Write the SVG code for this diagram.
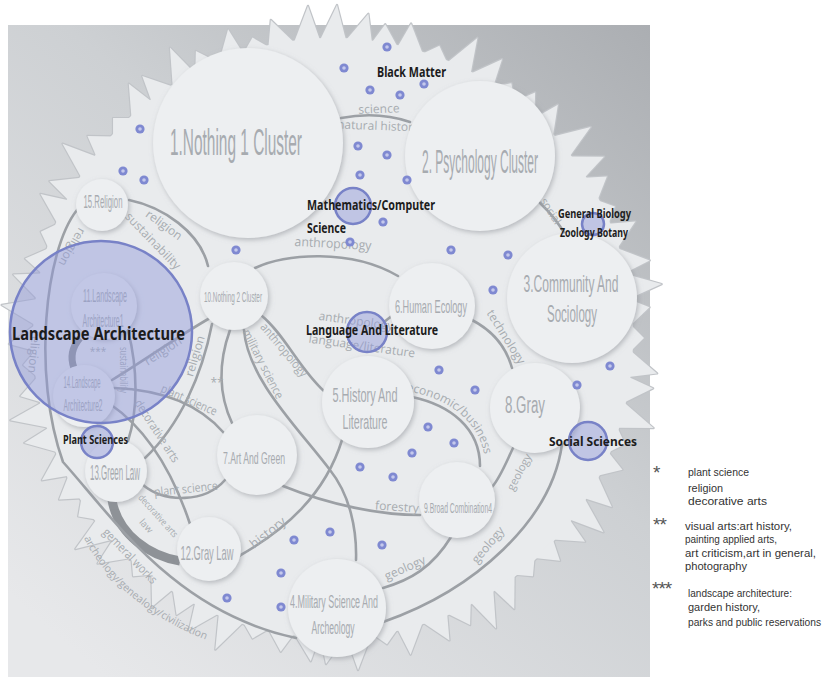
<svg xmlns="http://www.w3.org/2000/svg" width="829" height="681" viewBox="0 0 829 681">
<defs>
<style>
.node circle{fill:#edeff1;filter:url(#shadow)}
.nl{font-family:"Liberation Sans",Arial,sans-serif;fill:#a7abb0;text-anchor:middle}
.cx path{fill:none;stroke:#9ca0a5;stroke-width:2.6;stroke-linecap:round}
.cx path.band{stroke:#8e9297;stroke-width:9;stroke-linecap:butt}
.cl{font-family:"Open Sans","Liberation Sans",sans-serif;font-size:12px;fill:#a7abb0;text-anchor:middle}
.hub{fill:#8f99da;fill-opacity:.46;stroke:#7882c7;stroke-width:2.5}
.bl{font-family:"Noto Sans","Liberation Sans",sans-serif;font-weight:700;fill:#1c1c1c}
.lg{font-family:"Liberation Sans",Arial,sans-serif;font-size:10.5px;fill:#333}
.star{font-family:"Liberation Sans",Arial,sans-serif;font-size:19px;fill:#555;letter-spacing:-1px}
</style>
<linearGradient id="bgGrad" x1="1" y1="0" x2="0.15" y2="1">
<stop offset="0" stop-color="#abaeb2"/>
<stop offset="0.45" stop-color="#cdd0d3"/>
<stop offset="1" stop-color="#e7e8ea"/>
</linearGradient>
<filter id="shadow" x="-20%" y="-20%" width="140%" height="140%">
<feDropShadow dx="1.5" dy="2" stdDeviation="2.5" flood-color="#8c9096" flood-opacity="0.55"/>
</filter>
<!-- saw teeth of the outer rim -->
<polygon id="tA" points="-13,-298 4,-333 13,-298"/>
<polygon id="tB" points="-13,-298 -3,-318 13,-298"/>
<polygon id="tC" points="-13,-298 7,-326 13,-298"/>
<polygon id="tD" points="-13,-298 0,-311 13,-298"/>
<polygon id="tE" points="-13,-298 -6,-324 13,-298"/>
<g id="sunShape" transform="translate(333,338)">
<circle r="300"/>
<use href="#tA"/><use href="#tC" transform="rotate(5)"/><use href="#tB" transform="rotate(10)"/><use href="#tE" transform="rotate(15)"/>
<use href="#tD" transform="rotate(20)"/><use href="#tA" transform="rotate(25)"/><use href="#tC" transform="rotate(30)"/><use href="#tD" transform="rotate(35)"/>
<use href="#tB" transform="rotate(40)"/><use href="#tE" transform="rotate(45)"/><use href="#tA" transform="rotate(50)"/><use href="#tC" transform="rotate(55)"/>
<use href="#tB" transform="rotate(60)"/><use href="#tD" transform="rotate(65)"/><use href="#tE" transform="rotate(70)"/><use href="#tC" transform="rotate(75)"/>
<use href="#tA" transform="rotate(80)"/><use href="#tB" transform="rotate(85)"/><use href="#tD" transform="rotate(90)"/><use href="#tC" transform="rotate(95)"/>
<use href="#tE" transform="rotate(100)"/><use href="#tA" transform="rotate(105)"/><use href="#tD" transform="rotate(110)"/><use href="#tB" transform="rotate(115)"/>
<use href="#tC" transform="rotate(120)"/><use href="#tA" transform="rotate(125)"/><use href="#tE" transform="rotate(130)"/><use href="#tB" transform="rotate(135)"/>
<use href="#tD" transform="rotate(140)"/><use href="#tC" transform="rotate(145)"/><use href="#tA" transform="rotate(150)"/><use href="#tB" transform="rotate(155)"/>
<use href="#tE" transform="rotate(160)"/><use href="#tC" transform="rotate(165)"/><use href="#tD" transform="rotate(170)"/><use href="#tA" transform="rotate(175)"/>
<use href="#tC" transform="rotate(180)"/><use href="#tE" transform="rotate(185)"/><use href="#tB" transform="rotate(190)"/><use href="#tD" transform="rotate(195)"/>
<use href="#tA" transform="rotate(200)"/><use href="#tC" transform="rotate(205)"/><use href="#tB" transform="rotate(210)"/><use href="#tE" transform="rotate(215)"/>
<use href="#tD" transform="rotate(220)"/><use href="#tC" transform="rotate(225)"/><use href="#tA" transform="rotate(230)"/><use href="#tD" transform="rotate(235)"/>
<use href="#tB" transform="rotate(240)"/><use href="#tE" transform="rotate(245)"/><use href="#tC" transform="rotate(250)"/><use href="#tA" transform="rotate(255)"/>
<use href="#tB" transform="rotate(260)"/><use href="#tD" transform="rotate(265)"/><use href="#tE" transform="rotate(270)"/><use href="#tA" transform="rotate(275)"/>
<use href="#tC" transform="rotate(280)"/><use href="#tB" transform="rotate(285)"/><use href="#tD" transform="rotate(290)"/><use href="#tC" transform="rotate(295)"/>
<use href="#tE" transform="rotate(300)"/><use href="#tA" transform="rotate(305)"/><use href="#tB" transform="rotate(310)"/><use href="#tD" transform="rotate(315)"/>
<use href="#tC" transform="rotate(320)"/><use href="#tE" transform="rotate(325)"/><use href="#tA" transform="rotate(330)"/><use href="#tB" transform="rotate(335)"/>
<use href="#tC" transform="rotate(340)"/><use href="#tD" transform="rotate(345)"/><use href="#tE" transform="rotate(350)"/><use href="#tA" transform="rotate(355)"/>
</g>
<g id="dot"><circle r="4.6" fill="#7f89d1"/><circle r="1.8" fill="#c5c9ec"/></g>
<path id="pEcon" d="M406,391 C449,398 482,422 485,462"/>
<path id="pArch" d="M84,538 C100,573 148,625 236,650"/>
</defs>

<!-- backdrop panel -->
<rect x="8" y="25" width="642" height="652" fill="url(#bgGrad)"/>

<!-- jagged disc behind the network -->
<g id="sun">
<use href="#sunShape" fill="#c1c4c8" stroke="#c1c4c8" stroke-width="2.4" stroke-linejoin="round"/>
<use href="#sunShape" fill="#e9ebed"/>
</g>

<!-- links between clusters -->
<g id="connectors" class="cx">
<path d="M341,118 Q378,111 410,122"/>
<path d="M540,203 Q556,218 566,236"/>
<path d="M129,200 C163,207 200,232 208,266"/>
<path d="M255,268 C285,254 350,248 398,276"/>
<path d="M262,316 C285,335 300,370 325,392"/>
<path d="M244,330 C248,380 300,430 330,470 C350,495 357,530 356,560"/>
<path d="M230,330 Q212,380 232,423"/>
<path d="M212,324 C202,375 180,425 145,458"/>
<path d="M112,380 C145,360 180,335 210,318"/>
<path d="M114,388 C165,390 200,405 224,433"/>
<path d="M110,404 C145,428 172,470 190,524"/>
<path d="M143,485 C165,503 205,503 225,480"/>
<path class="band" d="M112,500 C118,535 150,556 180,561"/>
<path d="M283,486 C330,505 380,515 420,515"/>
<path d="M342,440 C325,495 285,530 239,556"/>
<path d="M472,320 C495,332 507,350 512,368"/>
<path d="M412,397 C450,405 480,428 480,466"/>
<path d="M451,537 C432,568 410,580 383,588"/>
<path d="M562,444 C552,520 475,590 383,622"/>
<path d="M513,448 C505,465 500,478 492,487"/>
<path d="M77,210 C45,250 32,375 63,462 C115,520 175,612 296,638"/>
<path d="M128,330 C138,370 138,410 128,441"/>
<path class="band" style="stroke-width:7" d="M80,338 Q68,352 74,368"/>
<path d="M384,322 L393,315"/>
</g>

<g id="connector-labels">
<text class="cl" transform="translate(379,109) rotate(-2)" y="4">science</text>
<text class="cl" transform="translate(378,126) rotate(2)" y="4">natural history</text>
<text class="cl" style="font-size:11px" transform="translate(551,211) rotate(58)" y="4">social</text>
<text class="cl" transform="translate(164,225) rotate(36)" y="4">religion</text>
<text class="cl" transform="translate(153,241) rotate(46)" y="4">sustainability</text>
<text class="cl" style="font-size:13px" transform="translate(333,244) rotate(3)" y="4" textLength="77" lengthAdjust="spacingAndGlyphs">anthropology</text>
<text class="cl" transform="translate(284,350) rotate(50)" y="4" textLength="66" lengthAdjust="spacingAndGlyphs">anthropology</text>
<text class="cl" transform="translate(263,364) rotate(63)" y="4" textLength="76" lengthAdjust="spacingAndGlyphs">military science</text>
<text class="cl" transform="translate(217,383)" y="4">**</text>
<text class="cl" style="font-size:10px" transform="translate(98,351)" y="4">***</text>
<text class="cl" transform="translate(195,356) rotate(-73)" y="4">religion</text>
<text class="cl" transform="translate(163,351) rotate(-33)" y="4">religion</text>
<text class="cl" transform="translate(189,400) rotate(24)" y="4" textLength="60" lengthAdjust="spacingAndGlyphs">plant science</text>
<text class="cl" transform="translate(157,431) rotate(57)" y="4" textLength="72" lengthAdjust="spacingAndGlyphs">decorative arts</text>
<text class="cl" transform="translate(186,489) rotate(-6)" y="4" textLength="64" lengthAdjust="spacingAndGlyphs">plant science</text>
<text class="cl" style="font-size:9.5px" transform="translate(158,516) rotate(48)" y="3" textLength="54" lengthAdjust="spacingAndGlyphs">decorative arts</text>
<text class="cl" style="font-size:9.5px" transform="translate(146,526) rotate(48)" y="3">law</text>
<text class="cl" transform="translate(397,507) rotate(4)" y="4">forestry</text>
<text class="cl" style="font-size:13px" transform="translate(268,533) rotate(-38)" y="4">history</text>
<text class="cl" transform="translate(506,337) rotate(58)" y="4">technology</text>
<text class="cl" style="text-anchor:start"><textPath href="#pEcon">economic/business</textPath></text>
<text class="cl" transform="translate(405,568) rotate(-24)" y="4">geology</text>
<text class="cl" transform="translate(488,545) rotate(-50)" y="4">geology</text>
<text class="cl" style="font-size:11px" transform="translate(519,472) rotate(-62)" y="4">geology</text>
<text class="cl" transform="translate(72,247) rotate(120)" y="4">religion</text>
<text class="cl" transform="translate(34,352) rotate(95)" y="4">religion</text>
<text class="cl" style="font-size:10px" transform="translate(123,370) rotate(90)" y="3" textLength="46" lengthAdjust="spacingAndGlyphs">sustainability</text>
<text class="cl" transform="translate(130,556) rotate(46)" y="4" textLength="72" lengthAdjust="spacingAndGlyphs">gemeral works</text>
<text class="cl" style="text-anchor:start;font-size:10.5px"><textPath href="#pArch">archeology/genealogy/civilization</textPath></text>
<text class="cl" transform="translate(356,321) rotate(8)" y="4">anthropology</text>
<text class="cl" transform="translate(362,346) rotate(8)" y="4">language/literature</text>
</g>

<!-- cluster nodes -->
<g id="node-1" class="node"><circle cx="248" cy="143" r="95"/><text class="nl" x="236" y="155" font-size="37" textLength="132" lengthAdjust="spacingAndGlyphs">1.Nothing 1 Cluster</text></g>
<g id="node-2" class="node"><circle cx="480" cy="156" r="75"/><text class="nl" x="480" y="173" font-size="34" textLength="116" lengthAdjust="spacingAndGlyphs">2. Psychology Cluster</text></g>
<g id="node-3" class="node"><circle cx="572" cy="298" r="65"/><text class="nl" x="571" y="292" font-size="24" textLength="95" lengthAdjust="spacingAndGlyphs">3.Community And</text><text class="nl" x="572" y="322" font-size="24" textLength="50" lengthAdjust="spacingAndGlyphs">Sociology</text></g>
<g id="node-4" class="node"><circle cx="337" cy="608" r="49"/><text class="nl" x="334" y="608" font-size="18" textLength="88" lengthAdjust="spacingAndGlyphs">4.Military Science And</text><text class="nl" x="333" y="634" font-size="18" textLength="43" lengthAdjust="spacingAndGlyphs">Archeology</text></g>
<g id="node-5" class="node"><circle cx="368" cy="402" r="46"/><text class="nl" x="365" y="402" font-size="21" textLength="65" lengthAdjust="spacingAndGlyphs">5.History And</text><text class="nl" x="365" y="429" font-size="21" textLength="45" lengthAdjust="spacingAndGlyphs">Literature</text></g>
<g id="node-6" class="node"><circle cx="432" cy="306" r="43"/><text class="nl" x="431" y="313" font-size="19" textLength="72" lengthAdjust="spacingAndGlyphs">6.Human Ecology</text></g>
<g id="node-7" class="node"><circle cx="257" cy="455" r="40"/><text class="nl" x="254" y="464" font-size="17" textLength="62" lengthAdjust="spacingAndGlyphs">7.Art And Green</text></g>
<g id="node-8" class="node"><circle cx="535" cy="408" r="45"/><text class="nl" x="525" y="413" font-size="23" textLength="40" lengthAdjust="spacingAndGlyphs">8.Gray</text></g>
<g id="node-9" class="node"><circle cx="457" cy="500" r="38"/><text class="nl" x="458" y="513" font-size="15" textLength="68" lengthAdjust="spacingAndGlyphs">9.Broad Combination4</text></g>
<g id="node-10" class="node"><circle cx="234" cy="296" r="34"/><text class="nl" x="233" y="302" font-size="14" textLength="58" lengthAdjust="spacingAndGlyphs">10.Nothing 2 Cluster</text></g>
<g id="node-11" class="node"><circle cx="104" cy="306" r="33"/><text class="nl" x="105" y="302" font-size="19" textLength="44" lengthAdjust="spacingAndGlyphs">11.Landscape</text><text class="nl" x="103" y="327" font-size="19" textLength="41" lengthAdjust="spacingAndGlyphs">Architecture1</text></g>
<g id="node-12" class="node"><circle cx="209" cy="549" r="32"/><text class="nl" x="207" y="560" font-size="21" textLength="53" lengthAdjust="spacingAndGlyphs">12.Gray Law</text></g>
<g id="node-13" class="node"><circle cx="116" cy="471" r="31"/><text class="nl" x="115" y="480" font-size="22" textLength="50" lengthAdjust="spacingAndGlyphs">13.Green Law</text></g>
<g id="node-14" class="node"><circle cx="84" cy="396" r="31"/><text class="nl" x="82" y="388" font-size="17" textLength="37" lengthAdjust="spacingAndGlyphs">14.Landscape</text><text class="nl" x="83" y="411" font-size="17" textLength="39" lengthAdjust="spacingAndGlyphs">Architecture2</text></g>
<g id="node-15" class="node"><circle cx="102" cy="205" r="26"/><text class="nl" x="103" y="208" font-size="18" textLength="39" lengthAdjust="spacingAndGlyphs">15.Religion</text></g>

<!-- highlighted subject hubs -->
<g id="hub-landscape"><circle class="hub" cx="101" cy="332" r="91"/><text class="bl" x="12" y="340" font-size="17" textLength="173" lengthAdjust="spacingAndGlyphs">Landscape Architecture</text></g>
<g id="hub-math"><circle class="hub" cx="353" cy="206" r="18"/><text class="bl" x="307" y="210" font-size="14" textLength="128" lengthAdjust="spacingAndGlyphs">Mathematics/Computer</text><text class="bl" x="307" y="233" font-size="14" textLength="39" lengthAdjust="spacingAndGlyphs">Science</text></g>
<g id="hub-biology"><circle class="hub" cx="593" cy="224" r="11"/><text class="bl" x="558" y="218" font-size="12" textLength="73" lengthAdjust="spacingAndGlyphs">General Biology</text><text class="bl" x="560" y="237" font-size="12" textLength="68" lengthAdjust="spacingAndGlyphs">Zoology Botany</text></g>
<g id="hub-language"><circle class="hub" cx="367" cy="332" r="20"/><text class="bl" x="306" y="335" font-size="14" textLength="132" lengthAdjust="spacingAndGlyphs">Language And Literature</text></g>
<g id="hub-plant"><circle class="hub" cx="97" cy="442" r="16"/><text class="bl" x="63" y="444" font-size="12" textLength="65" lengthAdjust="spacingAndGlyphs">Plant Sciences</text></g>
<g id="hub-social"><circle class="hub" cx="588" cy="441" r="19"/><text class="bl" x="549" y="446" font-size="13" textLength="88" lengthAdjust="spacingAndGlyphs">Social Sciences</text></g>
<g id="black-matter"><text class="bl" x="377" y="77" font-size="15" textLength="69" lengthAdjust="spacingAndGlyphs">Black Matter</text></g>

<!-- scattered points -->
<g id="dots">
<use href="#dot" x="140" y="129"/><use href="#dot" x="123" y="171"/><use href="#dot" x="144" y="180"/>
<use href="#dot" x="387" y="47"/><use href="#dot" x="344" y="68"/><use href="#dot" x="370" y="90"/>
<use href="#dot" x="400" y="95"/><use href="#dot" x="424" y="84"/><use href="#dot" x="358" y="146"/>
<use href="#dot" x="387" y="155"/><use href="#dot" x="360" y="175"/><use href="#dot" x="407" y="180"/>
<use href="#dot" x="383" y="222"/><use href="#dot" x="236" y="250"/><use href="#dot" x="350" y="242"/>
<use href="#dot" x="451" y="250"/><use href="#dot" x="508" y="255"/><use href="#dot" x="493" y="290"/>
<use href="#dot" x="439" y="370"/><use href="#dot" x="475" y="390"/><use href="#dot" x="428" y="427"/>
<use href="#dot" x="454" y="443"/><use href="#dot" x="412" y="453"/><use href="#dot" x="610" y="366"/>
<use href="#dot" x="577" y="385"/><use href="#dot" x="360" y="467"/><use href="#dot" x="393" y="477"/>
<use href="#dot" x="330" y="532"/><use href="#dot" x="294" y="540"/><use href="#dot" x="382" y="545"/>
<use href="#dot" x="281" y="573"/><use href="#dot" x="281" y="607"/><use href="#dot" x="227" y="598"/>
</g>

<!-- key for the asterisk marks -->
<g id="legend">
<text class="star" x="653" y="479">*</text>
<text class="lg" x="688" y="476" textLength="61" lengthAdjust="spacingAndGlyphs">plant science</text>
<text class="lg" x="688" y="492" textLength="35" lengthAdjust="spacingAndGlyphs">religion</text>
<text class="lg" x="688" y="505" textLength="79" lengthAdjust="spacingAndGlyphs">decorative arts</text>
<text class="star" x="653" y="531">**</text>
<text class="lg" x="685" y="530" textLength="107" lengthAdjust="spacingAndGlyphs">visual arts:art history,</text>
<text class="lg" x="685" y="543" textLength="92" lengthAdjust="spacingAndGlyphs">painting applied arts,</text>
<text class="lg" x="685" y="557" textLength="131" lengthAdjust="spacingAndGlyphs">art criticism,art in general,</text>
<text class="lg" x="685" y="570" textLength="62" lengthAdjust="spacingAndGlyphs">photography</text>
<text class="star" x="652" y="595">***</text>
<text class="lg" x="688" y="597" textLength="104" lengthAdjust="spacingAndGlyphs">landscape architecture:</text>
<text class="lg" x="688" y="611" textLength="72" lengthAdjust="spacingAndGlyphs">garden history,</text>
<text class="lg" x="688" y="626" textLength="133" lengthAdjust="spacingAndGlyphs">parks and public reservations</text>
</g>
</svg>
